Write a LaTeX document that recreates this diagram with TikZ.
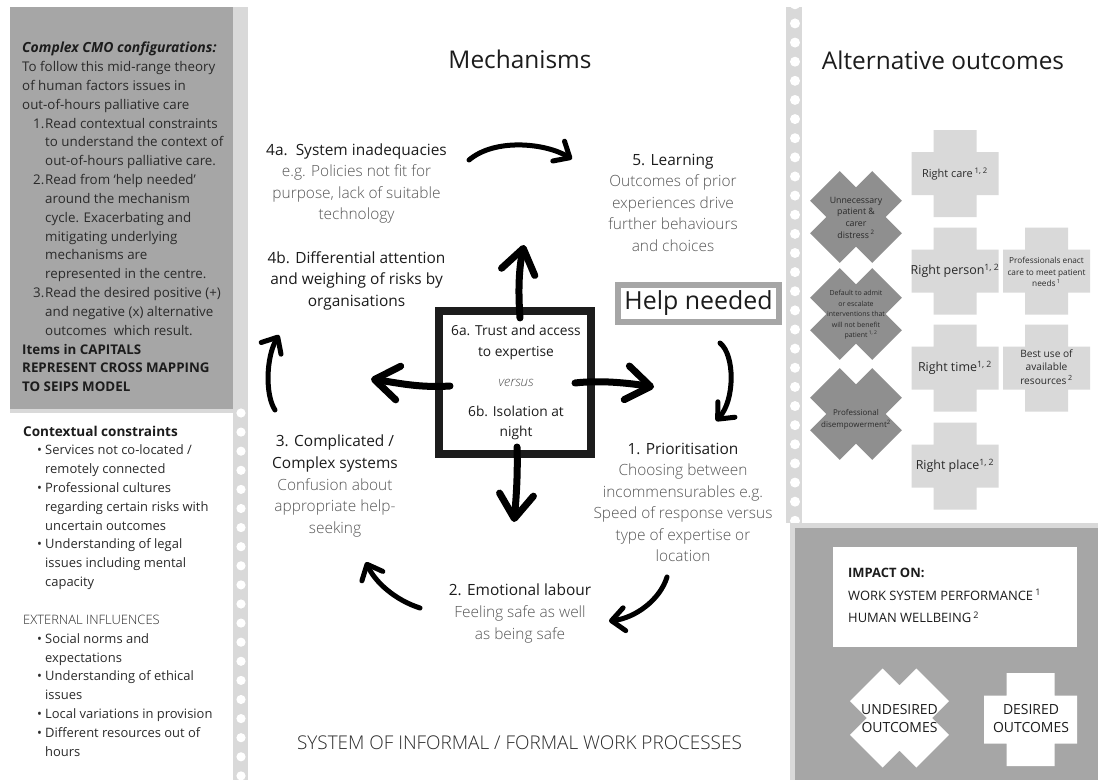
\documentclass[tikz,border=0pt]{standalone}
\usepackage{fontspec}
\setmainfont{Open Sans}
\IfFontExistsTF{Open Sans Light}{\newfontfamily\lightf{Open Sans Light}}{\newcommand\lightf{}}
\usetikzlibrary{arrows.meta}
\definecolor{panel}{HTML}{A6A6A6}
\definecolor{strip}{HTML}{D9D9D9}
\definecolor{xgrey}{HTML}{8F8F8F}
\definecolor{ink}{HTML}{1C1C1C}
\definecolor{soft}{HTML}{555555}
\definecolor{body}{HTML}{2A2A2A}
\newcommand\fsz[2]{\fontsize{#1}{#2}\selectfont}
\newcommand\sd[1]{\textcolor{soft}{\lightf #1}}
\begin{document}
\begin{tikzpicture}[x=1bp,y=-1bp,
  blocktext/.style={align=center, inner sep=0pt, text=ink, font=\fsz{15.5}{21.6}},
  sqtext/.style={align=center, inner sep=0pt, text=ink, font=\fsz{13.8}{20.5}},
  lefttext/.style={align=left, inner sep=0pt, anchor=west, font=\fsz{13}{18.9}, text=body},
  stxt/.style={align=center, inner sep=0pt, text=body},
  bigarrow/.style={line width=7bp, line cap=round, line join=round,
    -{Straight Barb[length=24bp,width=34bp,round]}},
  smallarrow/.style={line width=5bp, line cap=round, line join=round,
    -{Straight Barb[length=13bp,width=23bp,round]}},
  pics/crossshape/.style 2 args={code={
    \path[pic actions] (-#2,-#1) -- (#2,-#1) -- (#2,-#2) -- (#1,-#2) -- (#1,#2) -- (#2,#2)
      -- (#2,#1) -- (-#2,#1) -- (-#2,#2) -- (-#1,#2) -- (-#1,-#2) -- (-#2,-#2) -- cycle;}}
]
\useasboundingbox (0,0) rectangle (1098,780);
% ---------- backgrounds ----------
\fill[white] (0,0) rectangle (1098,780);
\fill[panel] (10,7) rectangle (233,409);
\fill[strip] (10,409) rectangle (233,413);
\fill[strip] (233,7) rectangle (248,780);
\foreach \k in {0,...,19} \fill[white] (241,413+19.1*\k) circle[radius=4.6];
\fill[strip] (786,7) rectangle (802,523);
\begin{scope}
  \clip (786,7) rectangle (802,523);
  \foreach \k in {0,...,27} \fill[white] (795,4.3+19.13*\k) circle[radius=5];
\end{scope}
\fill[strip] (790,523) rectangle (1098,780);
\fill[panel] (795,528) rectangle (1098,780);

% ---------- left panel ----------
\node[lefttext, font=\fsz{13.4}{18.9}] (cmo) at (22,217) {\textcolor{ink}{\fsz{14}{18.9}\textbf{\textit{Complex CMO configurations:}}}\\
To follow this mid-range theory\\
of human factors issues in\\
out-of-hours palliative care\\
\hspace*{11bp}\makebox[12bp][l]{1.}Read contextual constraints\\
\hspace*{23bp}to understand the context of\\
\hspace*{23bp}out-of-hours palliative care.\\
\hspace*{11bp}\makebox[12bp][l]{2.}Read from ‘help needed’\\
\hspace*{23bp}around the mechanism\\
\hspace*{23bp}cycle. Exacerbating and\\
\hspace*{23bp}mitigating underlying\\
\hspace*{23bp}mechanisms are\\
\hspace*{23bp}represented in the centre.\\
\hspace*{11bp}\makebox[12bp][l]{3.}Read the desired positive (+)\\
\hspace*{23bp}and negative (x) alternative\\
\hspace*{23bp}outcomes\ \ which result.\\
\textcolor{ink}{\textbf{Items in CAPITALS}}\\
\textcolor{ink}{\textbf{REPRESENT CROSS MAPPING}}\\
\textcolor{ink}{\textbf{TO SEIPS MODEL}}};

\node[lefttext] (ctx) at (23,591) {\textcolor{ink}{\fsz{13.6}{18.9}\textbf{Contextual constraints}}\\
\hspace*{14bp}\makebox[8bp][l]{•}Services not co-located /\\
\hspace*{22bp}remotely connected\\
\hspace*{14bp}\makebox[8bp][l]{•}Professional cultures\\
\hspace*{22bp}regarding certain risks with\\
\hspace*{22bp}uncertain outcomes\\
\hspace*{14bp}\makebox[8bp][l]{•}Understanding of legal\\
\hspace*{22bp}issues including mental\\
\hspace*{22bp}capacity\\[18.9bp]
{\lightf EXTERNAL INFLUENCES}\\
\hspace*{14bp}\makebox[8bp][l]{•}Social norms and\\
\hspace*{22bp}expectations\\
\hspace*{14bp}\makebox[8bp][l]{•}Understanding of ethical\\
\hspace*{22bp}issues\\
\hspace*{14bp}\makebox[8bp][l]{•}Local variations in provision\\
\hspace*{14bp}\makebox[8bp][l]{•}Different resources out of\\
\hspace*{22bp}hours};

% ---------- centre ----------
\node[text=ink, font=\fsz{24.5}{28}, inner sep=0pt] (mech) at (520,59) {Mechanisms};
\node[text=ink, font=\fsz{24.5}{28}, inner sep=0pt] (alt) at (943,60) {Alternative outcomes};

\node[blocktext] (b4a) at (356.5,183.5) {4a.\ \ System inadequacies\\\sd{e.g. Policies not fit for}\\\sd{purpose, lack of suitable}\\\sd{technology}};
\node[blocktext] (b4b) at (356.5,280.5) {4b. Differential attention\\and weighing of risks by\\organisations};
\node[blocktext] (b5) at (673,202.5) {5. Learning\\\sd{Outcomes of prior}\\\sd{experiences drive}\\\sd{further behaviours}\\\sd{and choices}};
\node[blocktext] (b1) at (683,502.5) {1. Prioritisation\\\sd{Choosing between}\\\sd{incommensurables e.g.}\\\sd{Speed of response versus}\\\sd{type of expertise or}\\\sd{location}};
\node[blocktext] (b2) at (520,613.5) {2. Emotional labour\\\sd{Feeling safe as well}\\\sd{as being safe}};
\node[blocktext] (b3) at (335,486) {3. Complicated /\\Complex systems\\\sd{Confusion about}\\\sd{appropriate help-}\\\sd{seeking}};

\node[draw=ink, line width=8bp, minimum width=152bp, minimum height=143bp, inner sep=0pt] (sq) at (515,382.5) {};
\node[sqtext] (s6a) at (516,342.5) {6a. Trust and access\\to expertise};
\node[inner sep=0pt, text=soft, font=\fsz{13.5}{16}] (vs) at (516,383) {\lightf\itshape versus};
\node[sqtext] (s6b) at (516,423) {6b. Isolation at\\night};

\node[draw=panel, line width=6bp, fill=white, minimum width=161bp, minimum height=37bp, inner sep=0pt, text=ink, font=\fsz{25}{30}] (help) at (698.5,303.5) {Help needed};

\node[inner sep=0pt, text=body, font=\fsz{19}{22}\lightf] (sys) at (519.5,743) {SYSTEM OF INFORMAL / FORMAL WORK PROCESSES};

% ---------- arrows ----------
\coordinate (upS) at (520,318);   \coordinate (upE) at (524,245);
\coordinate (lfS) at (450,386);   \coordinate (lfE) at (371,379);
\coordinate (rtS) at (575,383);   \coordinate (rtE) at (654,387);
\coordinate (dnS) at (517,447);   \coordinate (dnE) at (514,522);
\coordinate (arcS) at (469,160);  \coordinate (arcE) at (572,159);
\coordinate (hlS) at (720,343);   \coordinate (hlE) at (716,421);
\coordinate (prS) at (667,577);   \coordinate (prE) at (609,621);
\coordinate (emS) at (420,608);   \coordinate (emE) at (366,562);
\coordinate (cpS) at (275,410);   \coordinate (cpE) at (279,335);

\draw[bigarrow] (upS) .. controls (518,290) and (519,268) .. (upE);
\draw[bigarrow] (lfS) .. controls (420,388) and (398,383) .. (lfE);
\draw[bigarrow] (rtS) .. controls (600,380) and (628,383) .. (rtE);
\draw[bigarrow] (dnS) .. controls (518,475) and (516,500) .. (dnE);
\draw[smallarrow] (arcS) .. controls (495,138) and (545,143) .. (arcE);
\draw[smallarrow] (hlS) .. controls (735,355) and (735,400) .. (hlE);
\draw[smallarrow] (prS) .. controls (660,600) and (635,618) .. (prE);
\draw[smallarrow] (emS) .. controls (395,600) and (375,582) .. (emE);
\draw[smallarrow] (cpS) .. controls (265,395) and (266,357) .. (cpE);

% ---------- alternative outcomes ----------
\pic[fill=strip] at (955,173.5) {crossshape={43.5}{21.5}};
\pic[fill=strip] at (955,271) {crossshape={43.5}{21.5}};
\pic[fill=strip] at (955,368) {crossshape={43.5}{21.5}};
\pic[fill=strip] at (955,466) {crossshape={43.5}{21.5}};
\pic[fill=strip] at (1046.5,271) {crossshape={43.5}{21.5}};
\pic[fill=strip] at (1046.5,368) {crossshape={43.5}{21.5}};
\pic[fill=xgrey, rotate=45] at (856,217) {crossshape={44}{21}};
\pic[fill=xgrey, rotate=45] at (856,314) {crossshape={44}{21}};
\pic[fill=xgrey, rotate=45] at (856,414) {crossshape={44}{21}};

\node[stxt, font=\fsz{11}{13}] (rcare) at (955,174) {Right care\,\textsuperscript{1, 2}};
\node[stxt, font=\fsz{12.5}{14}] (rperson) at (955,271) {Right person\textsuperscript{1, 2}};
\node[stxt, font=\fsz{12.5}{14}] (rtime) at (955,368) {Right time\textsuperscript{1, 2}};
\node[stxt, font=\fsz{12.5}{14}] (rplace) at (955,466) {Right place\textsuperscript{1, 2}};
\node[stxt, font=\fsz{8.3}{11.5}] (penact) at (1046.5,272) {Professionals enact\\care to meet patient\\needs\,\textsuperscript{1}};
\node[stxt, font=\fsz{10.2}{13.5}] (bestuse) at (1046.5,367) {Best use of\\available\\resources\,\textsuperscript{2}};
\node[stxt, font=\fsz{8.8}{11.7}] (unnec) at (856,217.5) {Unnecessary\\patient \&\\carer\\distress\,\textsuperscript{2}};
\node[stxt, font=\fsz{7}{10.5}] (dflt) at (856,315) {Default to admit\\or escalate\\interventions that\\will not benefit\\\hspace*{10bp}patient\,\textsuperscript{1, 2}};
\node[stxt, font=\fsz{8}{12}] (disemp) at (856,419) {Professional\\disempowerment\textsuperscript{2}};

% ---------- impact panel ----------
\node[fill=white, minimum width=244bp, minimum height=100bp, inner sep=0pt] (impactbox) at (955,597) {};
\node[lefttext, text=ink, font=\fsz{13}{22.5}] (impact) at (848,595.5) {\textbf{IMPACT ON:}\\WORK SYSTEM PERFORMANCE\,\textsuperscript{1}\\HUMAN WELLBEING\,\textsuperscript{2}};
\pic[fill=white, rotate=45] at (899.5,718) {crossshape={47}{23}};
\pic[fill=white] at (1030.5,719.5) {crossshape={46.5}{24}};
\node[stxt, text=ink, font=\fsz{14}{19}] (und) at (899.5,718.5) {UNDESIRED\\OUTCOMES};
\node[stxt, text=ink, font=\fsz{14}{19}] (des) at (1031,718.5) {DESIRED\\OUTCOMES};
\end{tikzpicture}
\end{document}
